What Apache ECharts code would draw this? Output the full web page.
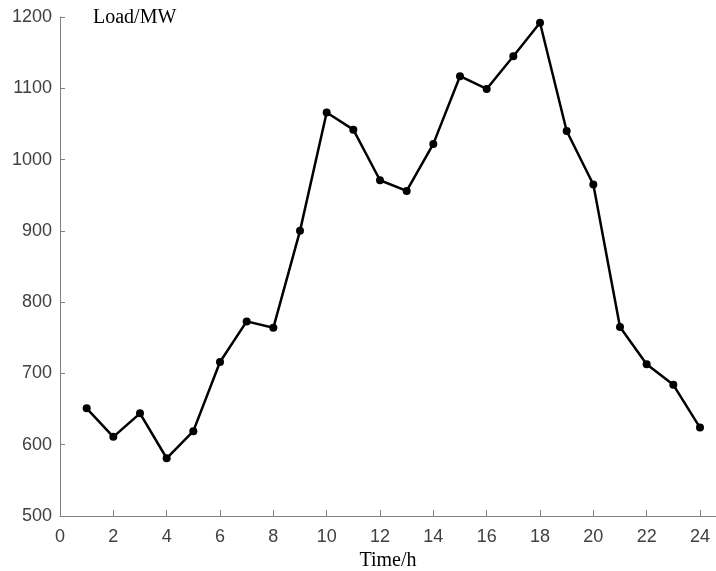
<!DOCTYPE html>
<html>
<head>
<meta charset="utf-8">
<script src="https://cdn.jsdelivr.net/npm/echarts@6/dist/echarts.min.js"></script>
<style>
html,body{margin:0;padding:0;background:#fff;}
#main{width:716px;height:571px;}
</style>
</head>
<body>
<div id="main"></div>
<script>
var hours = [1,2,3,4,5,6,7,8,9,10,11,12,13,14,15,16,17,18,19,20,21,22,23,24];
var load = [651,611,644,581,619,716,773,764,900,1066,1042,971,956,1022,1117,1099,1145,1192,1040,965,765,713,684,624];
var xTicks = [0,2,4,6,8,10,12,14,16,18,20,22,24];
var yTicks = [500,600,700,800,900,1000,1100,1200];

var chart = echarts.init(document.getElementById('main'), null, {renderer:'canvas'});
var axisColor = '#808080';
var labelColor = '#404040';
chart.setOption({
  animation: false,
  backgroundColor: '#ffffff',
  grid: {left: 60, right: 0, top: 17, bottom: 55, containLabel: false, outerBoundsMode: 'none'},
  xAxis: {
    type: 'value', min: 0, max: 24.6,
    axisLine: {show: true, onZero: false, lineStyle: {color: axisColor, width: 1}},
    axisTick: {show: true, inside: true, length: 6, customValues: xTicks, lineStyle: {color: axisColor}},
    axisLabel: {show: true, customValues: xTicks, color: labelColor, fontFamily: 'Liberation Sans, Arial, sans-serif', fontSize: 18, margin: 12,
      formatter: function(v){ return String(v); }},
    splitLine: {show: false},
    name: 'Time/h', nameLocation: 'middle', nameGap: 34,
    nameTextStyle: {color: '#000', fontFamily: 'Liberation Serif, Times New Roman, serif', fontSize: 20}
  },
  yAxis: {
    type: 'value', min: 500, max: 1200, interval: 100,
    axisLine: {show: true, onZero: false, lineStyle: {color: axisColor, width: 1}},
    axisTick: {show: true, inside: true, length: 5, customValues: yTicks, lineStyle: {color: axisColor}},
    axisLabel: {show: true, customValues: yTicks, color: labelColor, fontFamily: 'Liberation Sans, Arial, sans-serif', fontSize: 18, margin: 8,
      formatter: function(v){ return String(v); }},
    splitLine: {show: false}
  },
  graphic: [{
    type: 'text', left: 93, top: 8,
    style: {text: 'Load/MW', fill: '#000', font: '20px "Liberation Serif", "Times New Roman", serif'}
  }],
  series: [{
    type: 'line',
    data: hours.map(function(h, i){ return [h, load[i]]; }),
    lineStyle: {color: '#000', width: 2.5},
    itemStyle: {color: '#000', borderWidth: 0},
    symbol: 'circle', symbolSize: 8,
    showAllSymbol: true
  }]
});
</script>
</body>
</html>
